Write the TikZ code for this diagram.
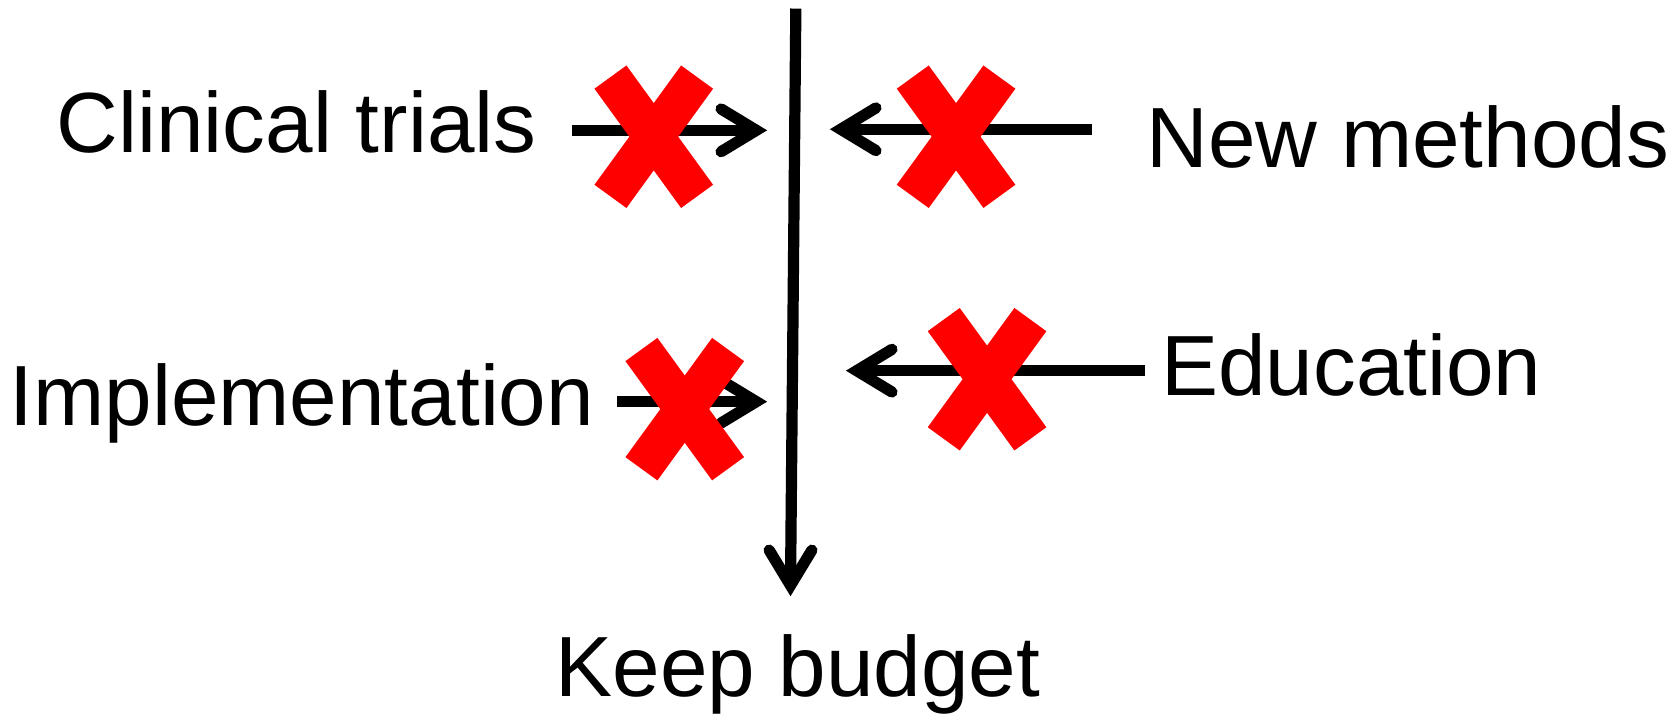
\documentclass[tikz,border=0pt]{standalone}
\usepackage{fontspec}
\setmainfont{Liberation Sans}
\usetikzlibrary{calc}
\begin{document}
\begin{tikzpicture}[x=1pt,y=-1pt,
  lbl/.style={anchor=base west, inner sep=0pt, font=\fontsize{80}{96}\selectfont},
  conn/.style={line width=10.5pt},
  headstyle/.style={line width=10.5pt, line cap=round, line join=miter, miter limit=10},
  xbar/.style={fill=red, draw=none, minimum width=138pt, minimum height=37pt, inner sep=0pt}]
\useasboundingbox (0,0) rectangle (1568,668);
% labels
\node[lbl] (ct) at (53,143) {Clinical trials};
\node[lbl] (nm) at (1073,157) {New methods};
\node[lbl] (im) at (9,398) {Implementation};
\node[lbl] (ed) at (1087,370) {Education};
\node[lbl] (kb) at (520,652) {Keep budget};
% connector ends (arrow vertices)
\coordinate (ctS) at (535,122);
\coordinate (ctE) at (708,122);
\coordinate (nmS) at (1022,121);
\coordinate (nmE) at (787,121);
\coordinate (imS) at (578,376);
\coordinate (imE) at (708,376);
\coordinate (edS) at (1072,347);
\coordinate (edE) at (802,347);
\coordinate (vS) at (745,8);
\coordinate (vE) at (740,548);
% connectors
\draw[conn] (ctS) -- (ctE);
\draw[headstyle] ($(ctE)+(-33,-20)$) -- (ctE) -- ($(ctE)+(-33,20)$);
\draw[conn] (nmS) -- (nmE);
\draw[headstyle] ($(nmE)+(33,-20)$) -- (nmE) -- ($(nmE)+(33,20)$);
\draw[conn] (imS) -- (imE);
\draw[headstyle] ($(imE)+(-33,-20)$) -- (imE) -- ($(imE)+(-33,20)$);
\draw[conn] (edS) -- (edE);
\draw[headstyle] ($(edE)+(33,-20)$) -- (edE) -- ($(edE)+(33,20)$);
\draw[conn] (vS) -- (vE);
\draw[headstyle] ($(vE)+(-20,-33)$) -- (vE) -- ($(vE)+(20,-33)$);
% red crosses
\node[xbar, rotate=54] (x1a) at (612,128) {};
\node[xbar, rotate=-54] (x1b) at (612,128) {};
\node[xbar, rotate=54] (x2a) at (895,128) {};
\node[xbar, rotate=-54] (x2b) at (895,128) {};
\node[xbar, rotate=54] (x3a) at (641,383) {};
\node[xbar, rotate=-54] (x3b) at (641,383) {};
\node[xbar, rotate=54] (x4a) at (924,355) {};
\node[xbar, rotate=-54] (x4b) at (924,355) {};
\end{tikzpicture}
\end{document}
